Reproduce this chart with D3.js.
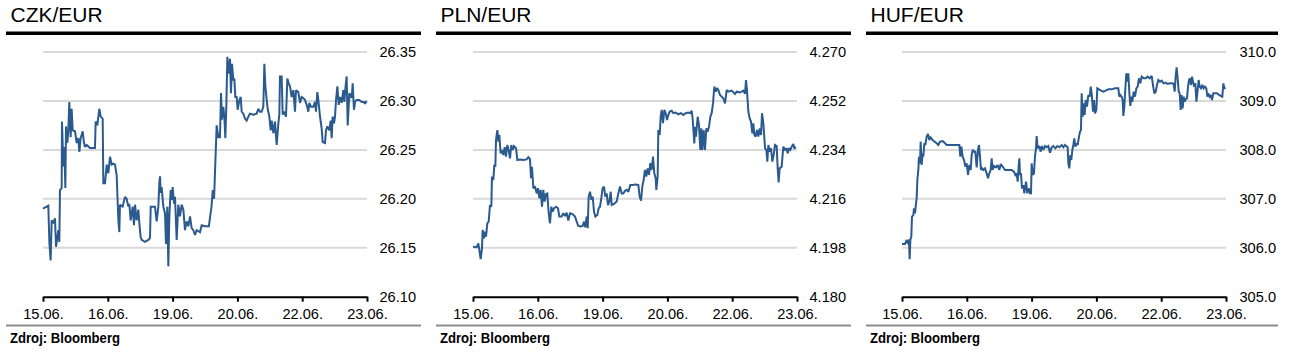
<!DOCTYPE html>
<html>
<head>
<meta charset="utf-8">
<script src="https://cdn.jsdelivr.net/npm/d3@7"></script>
<style>
  html, body { margin: 0; padding: 0; background: #fff; }
  svg { display: block; }
  text { font-family: "Liberation Sans", Arial, sans-serif; fill: #000; }
</style>
</head>
<body>
<svg id="chart" width="1291" height="357"></svg>
<script>
// ---- Data ----
const dateLabels = ["15.06.", "16.06.", "19.06.", "20.06.", "22.06.", "23.06."];
const titles = ["CZK/EUR", "PLN/EUR", "HUF/EUR"];
const sourceText = "Zdroj: Bloomberg";

const czkTicks = [26.10, 26.15, 26.20, 26.25, 26.30, 26.35];
const plnTicks = [4.180, 4.198, 4.216, 4.234, 4.252, 4.270];
const hufTicks = [305.0, 306.0, 307.0, 308.0, 309.0, 310.0];

// [position in trading days (0 = 15.06., 5 = 23.06.), rate]
const czkSeries = [
[0,26.190],[0.082,26.193],[0.098,26.156],[0.118,26.137],[0.134,26.178],[0.159,26.175],[0.185,26.180],[0.201,26.151],
[0.237,26.168],[0.252,26.156],[0.262,26.209],[0.288,26.211],[0.293,26.279],[0.314,26.233],[0.329,26.253],[0.345,26.211],
[0.355,26.274],[0.376,26.257],[0.391,26.270],[0.406,26.299],[0.427,26.263],[0.442,26.292],[0.458,26.270],[0.494,26.269],
[0.520,26.257],[0.545,26.262],[0.561,26.248],[0.581,26.262],[0.612,26.269],[0.633,26.257],[0.648,26.253],[0.674,26.255],
[0.725,26.252],[0.802,26.252],[0.813,26.279],[0.838,26.275],[0.869,26.292],[0.890,26.284],[0.921,26.282],[0.931,26.216],
[0.957,26.216],[0.983,26.235],[1.008,26.226],[1.034,26.243],[1.060,26.235],[1.085,26.236],[1.111,26.235],[1.137,26.224],
[1.163,26.178],[1.178,26.166],[1.188,26.194],[1.229,26.192],[1.265,26.202],[1.291,26.200],[1.317,26.192],[1.332,26.195],
[1.353,26.178],[1.384,26.192],[1.404,26.173],[1.420,26.194],[1.445,26.178],[1.471,26.189],[1.487,26.175],[1.507,26.161],
[1.523,26.158],[1.574,26.156],[1.626,26.158],[1.651,26.160],[1.662,26.192],[1.728,26.192],[1.754,26.177],[1.780,26.192],
[1.795,26.216],[1.806,26.223],[1.816,26.206],[1.831,26.212],[1.857,26.192],[1.883,26.185],[1.898,26.154],[1.919,26.192],
[1.934,26.131],[1.950,26.182],[1.970,26.209],[1.986,26.199],[2.001,26.212],[2.022,26.195],[2.037,26.202],[2.063,26.158],
[2.088,26.194],[2.114,26.182],[2.140,26.194],[2.166,26.189],[2.191,26.168],[2.217,26.177],[2.243,26.172],[2.269,26.182],
[2.294,26.170],[2.320,26.168],[2.346,26.163],[2.371,26.168],[2.423,26.166],[2.449,26.173],[2.500,26.172],[2.560,26.172],
[2.580,26.182],[2.600,26.192],[2.620,26.209],[2.640,26.200],[2.650,26.219],[2.680,26.275],[2.706,26.263],[2.731,26.263],
[2.747,26.308],[2.762,26.281],[2.783,26.294],[2.798,26.284],[2.814,26.262],[2.829,26.294],[2.845,26.345],[2.865,26.328],
[2.886,26.343],[2.901,26.308],[2.917,26.338],[2.937,26.321],[2.953,26.323],[2.968,26.304],[2.989,26.304],[3.004,26.291],
[3.030,26.301],[3.051,26.304],[3.066,26.289],[3.092,26.287],[3.117,26.282],[3.143,26.280],[3.169,26.284],[3.194,26.287],
[3.246,26.286],[3.297,26.287],[3.323,26.292],[3.349,26.289],[3.374,26.289],[3.400,26.294],[3.416,26.338],[3.431,26.316],
[3.452,26.301],[3.467,26.292],[3.493,26.284],[3.514,26.270],[3.529,26.280],[3.555,26.267],[3.580,26.279],[3.606,26.255],
[3.632,26.277],[3.647,26.286],[3.657,26.325],[3.683,26.325],[3.699,26.286],[3.719,26.289],[3.750,26.284],[3.771,26.323],
[3.791,26.318],[3.812,26.315],[3.837,26.304],[3.863,26.311],[3.889,26.289],[3.904,26.311],[3.940,26.309],[3.966,26.298],
[3.992,26.304],[4.017,26.303],[4.043,26.301],[4.069,26.296],[4.095,26.289],[4.110,26.298],[4.136,26.294],[4.172,26.294],
[4.198,26.299],[4.213,26.289],[4.233,26.309],[4.249,26.301],[4.275,26.284],[4.300,26.272],[4.316,26.258],[4.352,26.257],
[4.367,26.270],[4.388,26.274],[4.419,26.270],[4.439,26.280],[4.455,26.262],[4.470,26.284],[4.491,26.277],[4.506,26.284],
[4.522,26.301],[4.543,26.315],[4.563,26.296],[4.584,26.304],[4.609,26.298],[4.635,26.311],[4.650,26.299],[4.671,26.316],
[4.686,26.325],[4.702,26.275],[4.728,26.308],[4.764,26.303],[4.779,26.318],[4.799,26.291],[4.815,26.299],[4.840,26.301],
[4.882,26.301],[4.918,26.299],[4.954,26.299],[4.969,26.297],[4.995,26.300]
];

const plnSeries = [
[0,4.1984],[0.057,4.1982],[0.082,4.1996],[0.098,4.1972],[0.118,4.1938],[0.139,4.1978],[0.149,4.2046],[0.170,4.2015],
[0.185,4.2039],[0.201,4.2021],[0.221,4.2070],[0.242,4.2076],[0.262,4.2137],[0.283,4.2131],[0.293,4.2242],[0.314,4.2229],
[0.329,4.2285],[0.345,4.2278],[0.355,4.2377],[0.376,4.2413],[0.391,4.2370],[0.406,4.2395],[0.427,4.2327],[0.448,4.2340],
[0.468,4.2321],[0.489,4.2350],[0.509,4.2315],[0.530,4.2358],[0.550,4.2340],[0.571,4.2309],[0.591,4.2358],[0.612,4.2340],
[0.633,4.2354],[0.664,4.2346],[0.684,4.2303],[0.725,4.2305],[0.777,4.2303],[0.828,4.2305],[0.854,4.2313],[0.880,4.2305],
[0.895,4.2236],[0.910,4.2278],[0.931,4.2199],[0.957,4.2205],[0.983,4.2180],[1.003,4.2199],[1.024,4.2162],[1.044,4.2193],
[1.065,4.2131],[1.085,4.2193],[1.106,4.2150],[1.127,4.2178],[1.147,4.2180],[1.168,4.2107],[1.188,4.2070],[1.209,4.2131],
[1.229,4.2113],[1.250,4.2125],[1.281,4.2131],[1.312,4.2125],[1.332,4.2095],[1.368,4.2095],[1.394,4.2107],[1.420,4.2097],
[1.445,4.2109],[1.471,4.2080],[1.497,4.2107],[1.538,4.2104],[1.574,4.2095],[1.600,4.2076],[1.625,4.2060],[1.661,4.2058],
[1.692,4.2060],[1.713,4.2076],[1.733,4.2055],[1.754,4.2095],[1.770,4.2052],[1.785,4.2168],[1.806,4.2186],[1.826,4.2156],
[1.847,4.2168],[1.867,4.2113],[1.888,4.2095],[1.919,4.2101],[1.939,4.2125],[1.960,4.2131],[1.980,4.2162],[2.001,4.2199],
[2.022,4.2205],[2.042,4.2168],[2.063,4.2180],[2.083,4.2137],[2.104,4.2150],[2.125,4.2186],[2.140,4.2137],[2.176,4.2141],
[2.217,4.2150],[2.243,4.2180],[2.269,4.2205],[2.294,4.2180],[2.320,4.2180],[2.346,4.2190],[2.371,4.2193],[2.397,4.2186],
[2.428,4.2211],[2.474,4.2211],[2.500,4.2213],[2.551,4.2211],[2.572,4.2168],[2.593,4.2153],[2.613,4.2205],[2.634,4.2230],
[2.654,4.2266],[2.675,4.2242],[2.695,4.2272],[2.716,4.2248],[2.736,4.2291],[2.757,4.2266],[2.778,4.2315],[2.798,4.2254],
[2.819,4.2236],[2.829,4.2193],[2.850,4.2242],[2.860,4.2413],[2.881,4.2395],[2.896,4.2462],[2.912,4.2487],[2.932,4.2438],
[2.953,4.2487],[2.973,4.2475],[2.994,4.2450],[3.014,4.2468],[3.035,4.2481],[3.066,4.2484],[3.091,4.2475],[3.127,4.2477],
[3.168,4.2471],[3.210,4.2475],[3.246,4.2468],[3.282,4.2475],[3.323,4.2477],[3.354,4.2475],[3.374,4.2484],[3.389,4.2456],
[3.405,4.2401],[3.415,4.2364],[3.426,4.2425],[3.441,4.2389],[3.467,4.2462],[3.487,4.2432],[3.508,4.2340],[3.524,4.2419],
[3.539,4.2340],[3.560,4.2413],[3.580,4.2340],[3.601,4.2419],[3.621,4.2407],[3.642,4.2425],[3.663,4.2462],[3.683,4.2475],
[3.704,4.2511],[3.724,4.2573],[3.745,4.2554],[3.765,4.2567],[3.786,4.2560],[3.812,4.2542],[3.837,4.2536],[3.863,4.2530],
[3.889,4.2511],[3.915,4.2560],[3.940,4.2554],[3.992,4.2558],[4.043,4.2546],[4.069,4.2554],[4.120,4.2551],[4.172,4.2558],
[4.198,4.2546],[4.213,4.2597],[4.228,4.2560],[4.249,4.2481],[4.270,4.2456],[4.290,4.2444],[4.311,4.2401],[4.326,4.2438],
[4.342,4.2395],[4.362,4.2389],[4.383,4.2413],[4.404,4.2389],[4.424,4.2419],[4.445,4.2395],[4.460,4.2475],[4.481,4.2438],
[4.507,4.2346],[4.527,4.2340],[4.542,4.2297],[4.558,4.2358],[4.578,4.2334],[4.599,4.2346],[4.619,4.2297],[4.640,4.2321],
[4.660,4.2358],[4.686,4.2354],[4.702,4.2272],[4.717,4.2220],[4.732,4.2272],[4.763,4.2278],[4.789,4.2352],[4.815,4.2340],
[4.840,4.2346],[4.856,4.2327],[4.876,4.2346],[4.897,4.2340],[4.918,4.2352],[4.943,4.2362],[4.959,4.2346],[4.985,4.2350]
];

const hufSeries = [
[0,306.077],[0.046,306.077],[0.072,306.159],[0.093,306.077],[0.108,306.172],[0.118,305.764],[0.129,306.159],[0.144,306.227],
[0.154,306.635],[0.175,306.669],[0.185,306.806],[0.201,306.703],[0.216,306.908],[0.226,307.010],[0.237,307.384],[0.252,307.589],
[0.262,307.861],[0.278,307.725],[0.288,308.168],[0.303,307.691],[0.319,307.929],[0.329,307.861],[0.345,308.134],[0.360,308.100],
[0.381,308.270],[0.401,308.324],[0.422,308.202],[0.442,308.256],[0.473,308.202],[0.504,308.168],[0.535,308.134],[0.561,308.100],
[0.586,308.168],[0.628,308.181],[0.664,308.134],[0.689,308.100],[0.792,308.100],[0.885,308.100],[0.900,307.861],[0.916,308.066],
[0.936,307.861],[0.957,307.793],[0.977,307.657],[0.998,307.725],[1.019,307.487],[1.039,307.691],[1.060,307.589],[1.075,307.895],
[1.091,307.998],[1.111,307.964],[1.132,307.964],[1.152,307.643],[1.173,307.998],[1.188,308.100],[1.204,307.861],[1.219,307.589],
[1.235,307.623],[1.255,307.589],[1.281,307.623],[1.306,307.521],[1.327,307.419],[1.348,307.521],[1.368,307.589],[1.384,307.827],
[1.399,307.589],[1.420,307.671],[1.451,307.643],[1.476,307.691],[1.502,307.589],[1.523,307.711],[1.553,307.657],[1.590,307.589],
[1.641,307.589],[1.692,307.589],[1.728,307.555],[1.749,307.487],[1.770,307.521],[1.785,307.351],[1.800,307.657],[1.811,307.827],
[1.821,307.487],[1.836,307.521],[1.852,307.214],[1.872,307.282],[1.888,307.112],[1.914,307.351],[1.934,307.112],[1.955,307.214],
[1.975,307.112],[1.991,307.112],[2.001,307.725],[2.016,307.487],[2.037,307.521],[2.052,307.861],[2.068,308.032],[2.078,308.284],
[2.094,308.032],[2.119,308.079],[2.140,307.964],[2.160,308.079],[2.181,307.998],[2.207,308.079],[2.233,308.052],[2.258,308.079],
[2.284,307.943],[2.310,308.052],[2.335,308.079],[2.366,308.032],[2.397,308.079],[2.428,308.052],[2.464,308.100],[2.490,308.052],
[2.515,308.100],[2.557,308.052],[2.567,307.725],[2.582,307.623],[2.598,307.895],[2.613,307.793],[2.629,307.998],[2.644,308.100],
[2.659,308.236],[2.675,308.066],[2.695,308.134],[2.711,308.100],[2.731,308.270],[2.747,308.372],[2.762,308.406],[2.773,309.155],
[2.788,308.679],[2.804,308.951],[2.819,308.713],[2.834,309.019],[2.855,308.883],[2.875,309.121],[2.896,309.087],[2.912,309.292],
[2.927,309.155],[2.948,308.781],[2.963,309.019],[2.978,308.747],[2.999,308.815],[3.014,309.258],[3.040,309.237],[3.071,309.210],
[3.107,309.189],[3.143,309.210],[3.184,309.237],[3.235,309.237],[3.287,309.258],[3.338,309.258],[3.354,309.087],[3.369,309.121],
[3.390,309.087],[3.405,309.019],[3.416,308.692],[3.431,308.883],[3.447,309.258],[3.462,309.564],[3.477,309.394],[3.493,309.564],
[3.509,309.155],[3.524,308.897],[3.539,309.087],[3.555,308.985],[3.575,309.189],[3.596,309.087],[3.616,309.258],[3.637,309.292],
[3.657,309.462],[3.678,309.360],[3.699,309.496],[3.729,309.462],[3.760,309.462],[3.791,309.496],[3.822,309.462],[3.853,309.510],
[3.873,309.326],[3.894,309.155],[3.915,309.189],[3.935,309.326],[3.956,309.428],[3.982,309.394],[4.007,309.414],[4.038,309.360],
[4.069,309.374],[4.100,309.346],[4.136,309.360],[4.172,309.360],[4.192,309.346],[4.208,309.189],[4.223,309.496],[4.238,309.687],
[4.254,309.462],[4.270,309.189],[4.285,309.155],[4.301,308.815],[4.316,309.121],[4.331,308.849],[4.347,309.087],[4.362,308.985],
[4.378,309.033],[4.398,309.053],[4.414,309.292],[4.429,309.428],[4.445,309.462],[4.460,309.326],[4.476,309.496],[4.491,309.394],
[4.507,309.292],[4.527,309.360],[4.543,308.985],[4.563,309.224],[4.578,309.428],[4.594,309.292],[4.614,309.258],[4.635,309.326],
[4.655,309.258],[4.676,309.292],[4.696,309.258],[4.712,309.087],[4.727,309.155],[4.748,309.087],[4.768,309.121],[4.784,309.019],
[4.804,309.155],[4.830,309.155],[4.861,309.155],[4.892,309.121],[4.923,309.101],[4.943,309.087],[4.959,309.360],[4.974,309.258],
[4.995,309.258]
];

// ---- Drawing ----
const panels = [
  { title: titles[0], ticks: czkTicks, series: czkSeries, fmt: d3.format(".2f"), ox: 0 },
  { title: titles[1], ticks: plnTicks, series: plnSeries, fmt: d3.format(".3f"), ox: 430 },
  { title: titles[2], ticks: hufTicks, series: hufSeries, fmt: d3.format(".1f"), ox: 860 }
];

const svg = d3.select("#chart");
const lineColor = "#2b5a8e";
const plotTop = 52, plotBottom = 296.7;

panels.forEach((p, i) => {
  const g = svg.append("g").attr("transform", `translate(${p.ox},0)`);
  const left = i === 2 ? 42 : 43;
  const right = left + 324;
  const ruleRight = i === 2 ? 418 : 421;

  const x = d3.scaleLinear().domain([0, dateLabels.length - 1]).range([left, right]);
  const y = d3.scaleLinear().domain([p.ticks[0], p.ticks[p.ticks.length - 1]]).range([plotBottom, plotTop]);

  // title
  g.append("text").attr("x", 10.5).attr("y", 22)
    .style("font-size", "21px").text(p.title);
  // black header rule
  g.append("rect").attr("x", 6).attr("y", 31.5).attr("width", ruleRight - 6).attr("height", 3.5).attr("fill", "#000");

  // grid lines
  g.append("g").selectAll("line").data(p.ticks.slice(1)).join("line")
    .attr("x1", left).attr("x2", right)
    .attr("y1", d => y(d)).attr("y2", d => y(d))
    .attr("stroke", "#d9d9d9").attr("stroke-width", 2);

  // right value labels
  g.append("g").selectAll("text").data(p.ticks).join("text")
    .attr("x", 379.5).attr("y", d => y(d) + 5.3)
    .style("font-size", "14.6px")
    .text(d => p.fmt(d));

  // x axis
  const xAxis = d3.axisBottom(x)
    .tickValues(d3.range(dateLabels.length))
    .tickFormat(k => dateLabels[k])
    .tickSize(5).tickSizeOuter(0).tickPadding(7);
  const ax = g.append("g").attr("transform", `translate(0,${plotBottom})`).call(xAxis);
  ax.select(".domain").attr("stroke", "#000").attr("stroke-width", 2);
  ax.selectAll(".tick line").attr("stroke", "#000").attr("stroke-width", 2);
  ax.selectAll(".tick text")
    .style("font-family", '"Liberation Sans", Arial, sans-serif')
    .style("font-size", "14.6px").attr("fill", "#000");

  // series line
  const line = d3.line().x(d => x(d[0])).y(d => y(d[1]));
  g.append("path").datum(p.series)
    .attr("d", line).attr("fill", "none")
    .attr("stroke", lineColor).attr("stroke-width", 2)
    .attr("stroke-linejoin", "miter").attr("stroke-miterlimit", 2);

  // bottom gray rule
  g.append("rect").attr("x", 6).attr("y", 324.5).attr("width", ruleRight - 6).attr("height", 2).attr("fill", "#8c8c8c");

  // source
  g.append("text").attr("x", 10).attr("y", 343)
    .style("font-size", "14px").style("font-weight", "bold")
    .attr("textLength", 110).attr("lengthAdjust", "spacingAndGlyphs")
    .text(sourceText);
});
</script>
</body>
</html>
